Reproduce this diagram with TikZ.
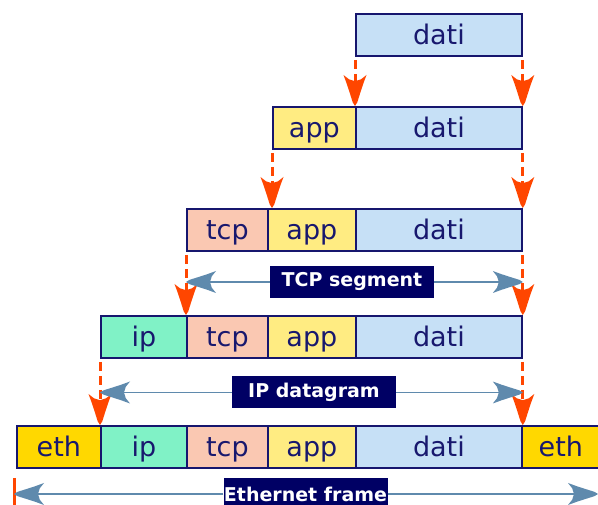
\documentclass[tikz,border=0pt]{standalone}
\usepackage{fontspec}
\setmainfont{DejaVu Sans}
\usetikzlibrary{arrows.meta}

\definecolor{cellborder}{RGB}{22,22,110}
\definecolor{celltext}{RGB}{24,24,110}
\definecolor{datifill}{RGB}{198,224,246}
\definecolor{appfill}{RGB}{255,236,130}
\definecolor{tcpfill}{RGB}{250,200,178}
\definecolor{ipfill}{RGB}{128,242,198}
\definecolor{ethfill}{RGB}{255,216,0}
\definecolor{tagfill}{RGB}{0,0,100}
\definecolor{dropcol}{RGB}{255,70,0}
\definecolor{spancol}{RGB}{95,138,173}

% a barbed dart tip: narrow point, flaring spikes at the back
\pgfdeclarearrow{
  name=Dart,
  parameters={\the\pgfarrowlength,\the\pgfarrowwidth},
  setup code={
    \pgfarrowssettipend{0pt}
    \pgfarrowssetlineend{-0.7\pgfarrowlength}
    \pgfarrowssetbackend{-\pgfarrowlength}
    \pgfarrowssavethe\pgfarrowlength
    \pgfarrowssavethe\pgfarrowwidth
    \pgfarrowsupperhullpoint{-\pgfarrowlength}{0.5\pgfarrowwidth}
    \pgfarrowshullpoint{0pt}{0pt}
  },
  drawing code={
    \pgfpathmoveto{\pgfqpoint{0pt}{0pt}}
    \pgfpathlineto{\pgfqpoint{-0.12\pgfarrowlength}{0.10\pgfarrowwidth}}
    \pgfpathlineto{\pgfqpoint{-0.45\pgfarrowlength}{0.24\pgfarrowwidth}}
    \pgfpathlineto{\pgfqpoint{-0.72\pgfarrowlength}{0.36\pgfarrowwidth}}
    \pgfpathlineto{\pgfqpoint{-\pgfarrowlength}{0.5\pgfarrowwidth}}
    \pgfpathlineto{\pgfqpoint{-0.86\pgfarrowlength}{0.26\pgfarrowwidth}}
    \pgfpathlineto{\pgfqpoint{-0.80\pgfarrowlength}{0pt}}
    \pgfpathlineto{\pgfqpoint{-0.86\pgfarrowlength}{-0.26\pgfarrowwidth}}
    \pgfpathlineto{\pgfqpoint{-\pgfarrowlength}{-0.5\pgfarrowwidth}}
    \pgfpathlineto{\pgfqpoint{-0.72\pgfarrowlength}{-0.36\pgfarrowwidth}}
    \pgfpathlineto{\pgfqpoint{-0.45\pgfarrowlength}{-0.24\pgfarrowwidth}}
    \pgfpathlineto{\pgfqpoint{-0.12\pgfarrowlength}{-0.10\pgfarrowwidth}}
    \pgfpathclose
    \pgfusepathqfill
  },
  defaults={length=30pt, width=22pt}
}

\begin{document}
\begin{tikzpicture}[x=1pt,y=-1pt,
  cell/.style={draw=cellborder, line width=1.8pt, anchor=north west,
    inner sep=0pt, minimum height=42pt, text=celltext,
    text height=20pt, text depth=0pt,
    font=\fontsize{27}{27}\selectfont},
  dati/.style={cell, fill=datifill, minimum width=166pt},
  app/.style={cell, fill=appfill, minimum width=88pt},
  tcp/.style={cell, fill=tcpfill, minimum width=81pt},
  ip/.style={cell, fill=ipfill, minimum width=86pt},
  eth/.style={cell, fill=ethfill},
  tag/.style={fill=tagfill, text=white, inner sep=0pt,
    minimum width=164pt, minimum height=32pt,
    font=\fontsize{19}{19}\selectfont\bfseries},
  drop/.style={draw=dropcol, line width=3pt, dash pattern=on 9pt off 5pt,
    shorten <=3pt, -{Dart[length=31pt, width=23pt]}},
  span/.style={draw=spancol, line width=1.5pt,
    -{Dart[length=30pt, width=22pt]}},
  tick/.style={draw=dropcol, line width=3pt}
]
\useasboundingbox (0,0) rectangle (598,505);

% row 1: data only
\node[dati] (d1) at (355,13) {dati};

% row 2: application header
\node[app, minimum width=83pt] (a2) at (272,106) {app};
\node[dati] (d2) at (355,106) {dati};

% row 3: TCP header
\node[tcp] (t3) at (186,208) {tcp};
\node[app] (a3) at (267,208) {app};
\node[dati] (d3) at (355,208) {dati};

% row 4: IP header
\node[ip] (i4) at (100,315) {ip};
\node[tcp] (t4) at (186,315) {tcp};
\node[app] (a4) at (267,315) {app};
\node[dati] (d4) at (355,315) {dati};

% row 5: Ethernet frame
\node[eth, minimum width=84pt] (e5) at (16,425) {eth};
\node[ip] (i5) at (100,425) {ip};
\node[tcp] (t5) at (186,425) {tcp};
\node[app] (a5) at (267,425) {app};
\node[dati] (d5) at (355,425) {dati};
\node[eth, minimum width=78pt] (f5) at (521,425) {eth};

% encapsulation arrows
\draw[drop] (d1.south west) -- (d1.south west |- d2.north);
\draw[drop] (d1.south east) -- (d1.south east |- d2.north);
\draw[drop] (a2.south west) -- (a2.south west |- t3.north);
\draw[drop] (d2.south east) -- (d2.south east |- d3.north);
\draw[drop] (t3.south west) -- (t3.south west |- i4.north);
\draw[drop] (d3.south east) -- (d3.south east |- d4.north);
\draw[drop] (i4.south west) -- (i4.south west |- e5.north);
\draw[drop] (d4.south east) -- (d4.south east |- d5.north);

% extent labels
\node[tag] (seg) at (352,282) {TCP segment};
\draw[span] (seg.west) -- (t3.south west |- seg.west);
\draw[span] (seg.east) -- (d3.south east |- seg.east);

\node[tag] (dgram) at (314,392.5) {IP datagram};
\draw[span] (dgram.west) -- (i4.south west |- dgram.west);
\draw[span] (dgram.east) -- (d4.south east |- dgram.east);

\coordinate (fl) at (14,478);
\coordinate (fr) at (598,493);
\node[tag] (frame) at (305.5,494) {Ethernet frame};
\draw[tick] (fl) -- (fl |- 0,505);
\draw[span] (frame.west) -- (fl |- frame.west);
\draw[span] (frame.east) -- (fr |- frame.east);
\end{tikzpicture}
\end{document}
